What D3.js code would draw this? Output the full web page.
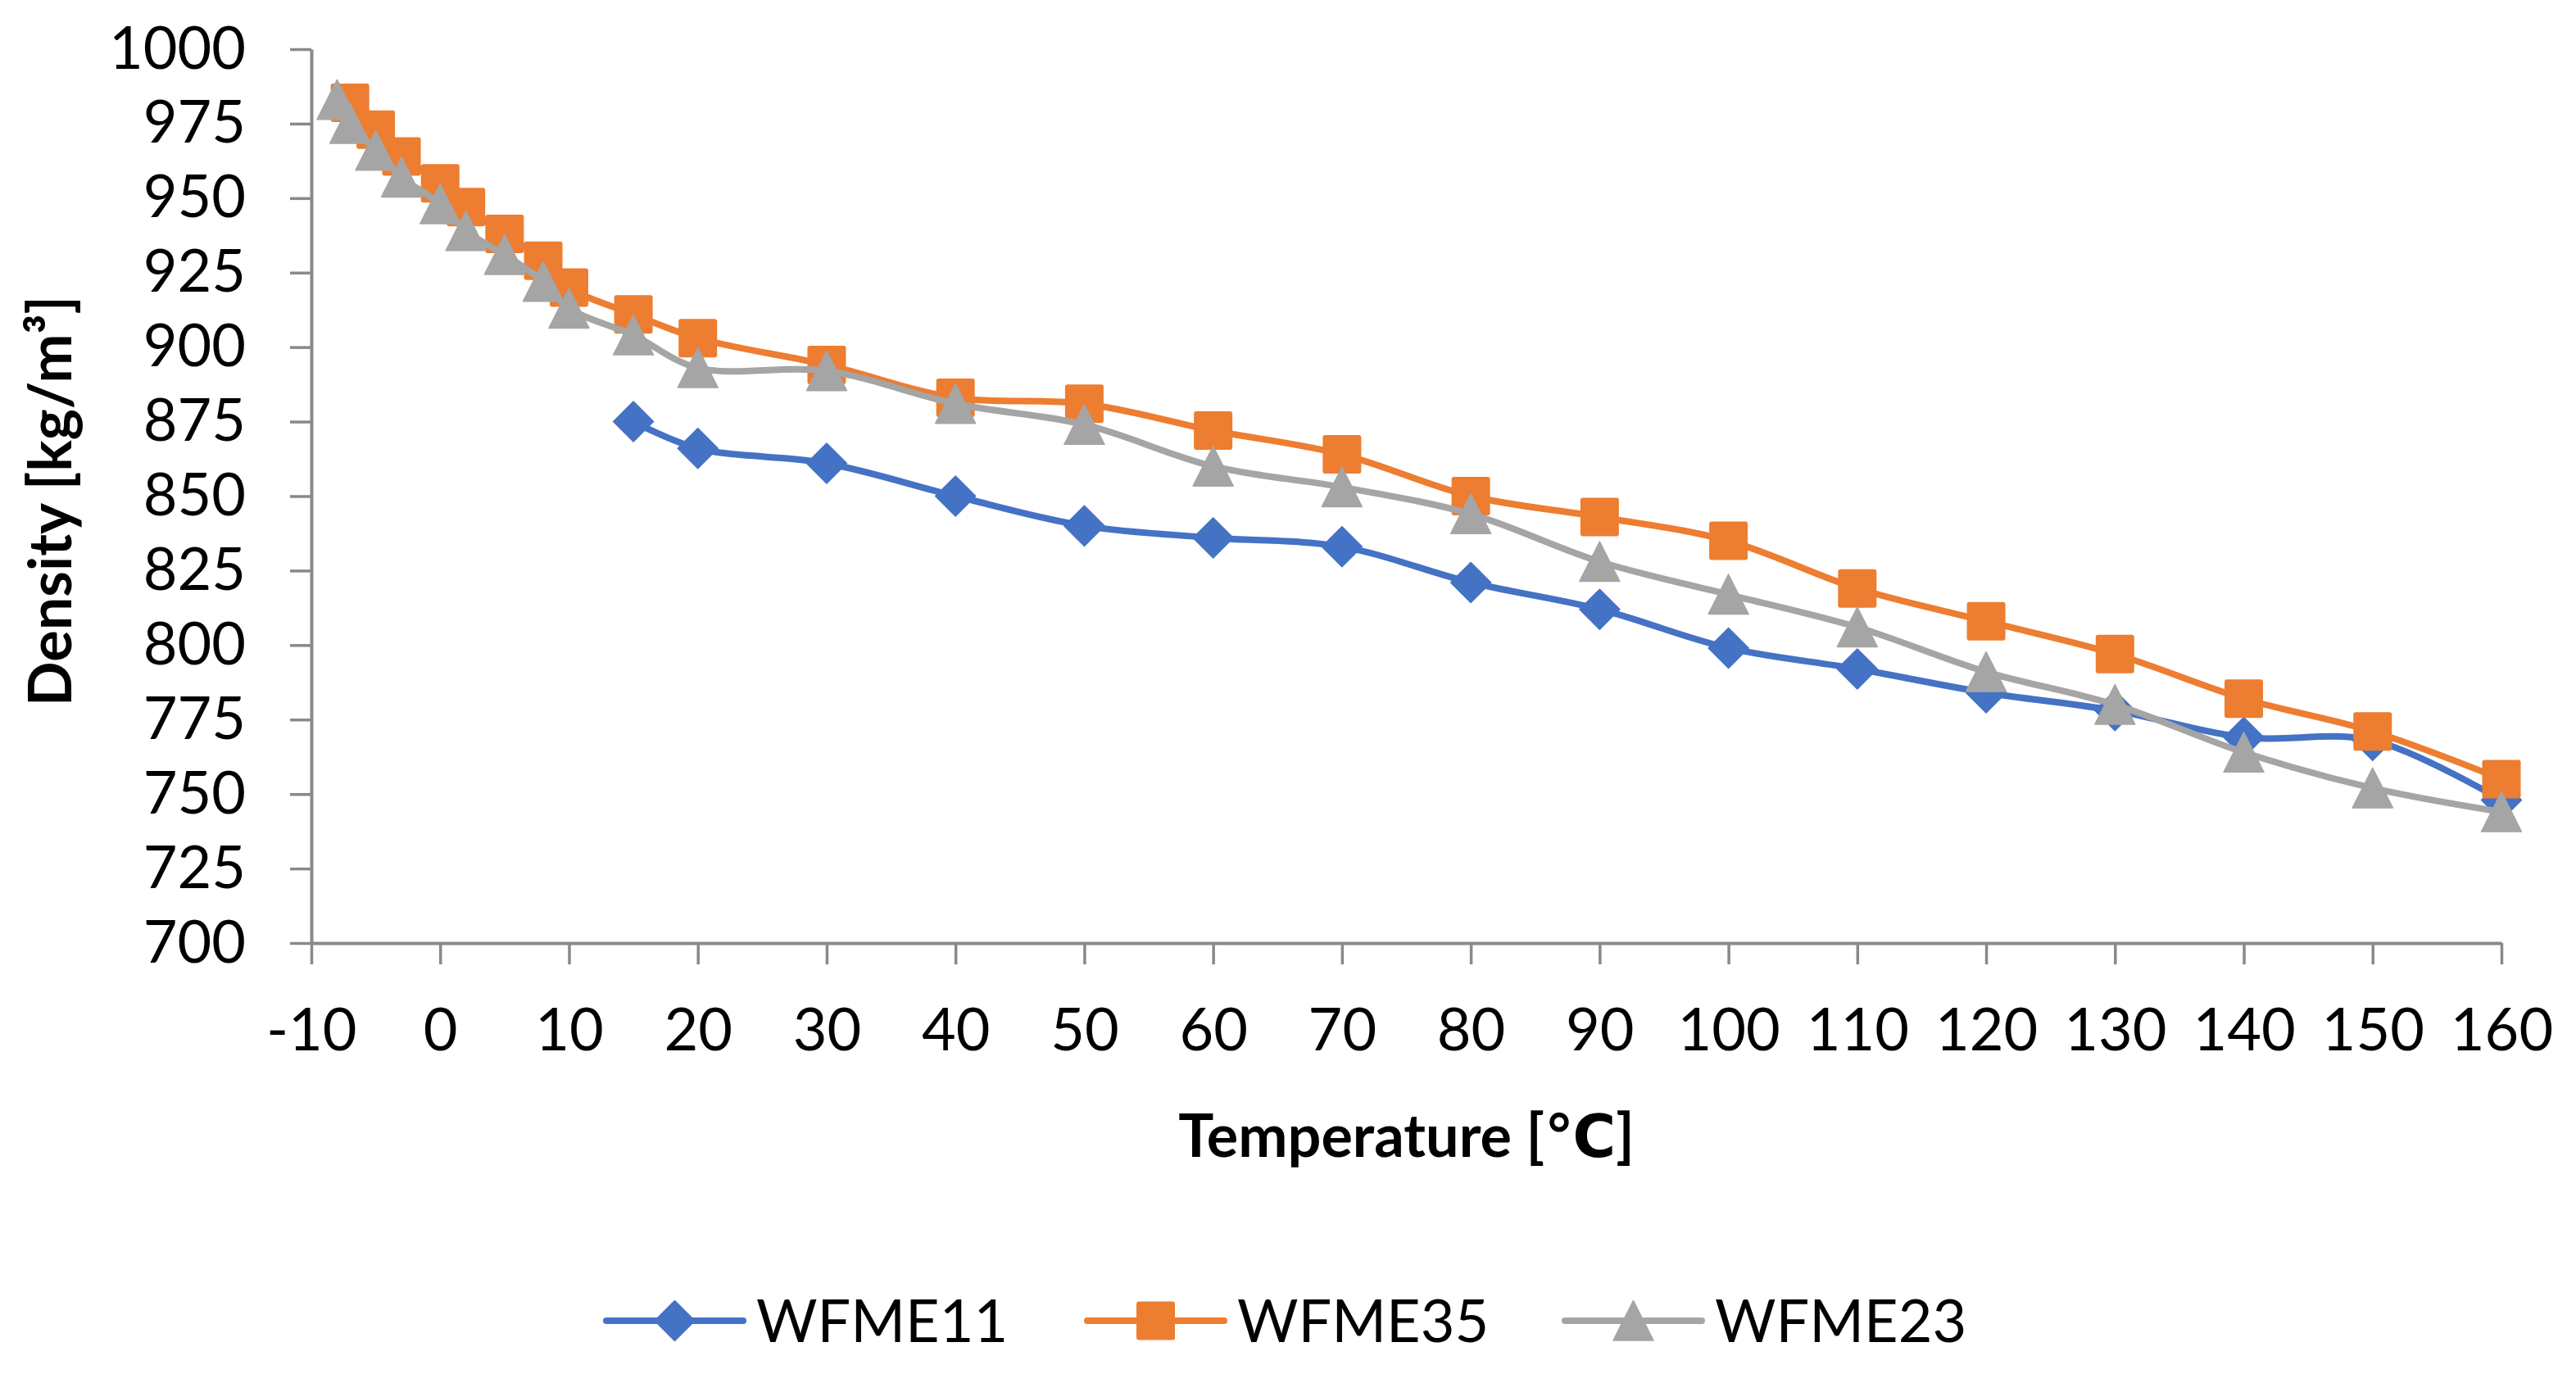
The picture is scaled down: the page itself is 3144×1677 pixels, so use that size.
<!DOCTYPE html>
<html>
<head>
<meta charset="utf-8">
<script src="https://cdn.jsdelivr.net/npm/d3@7"></script>
<style>
  html, body { margin: 0; padding: 0; background: #ffffff; }
  svg { display: block; }
  text { font-family: Lato, "Open Sans", "DejaVu Sans", sans-serif; fill: #000; }
</style>
</head>
<body>
<svg id="chart" width="3144" height="1677"></svg>
<script>
// ---- data ----
const seriesNames = ["WFME11", "WFME35", "WFME23"];

const tempWFME11 = [15, 20, 30, 40, 50, 60, 70, 80, 90, 100, 110, 120, 130, 140, 150, 160];
const densWFME11 = [875, 866, 861, 850, 840, 836, 833, 821, 812, 799, 792, 784, 778, 769, 768, 748];

const tempWFME35 = [-7, -5, -3, 0, 2, 5, 8, 10, 15, 20, 30, 40, 50, 60, 70, 80, 90, 100, 110, 120, 130, 140, 150, 160];
const densWFME35 = [982, 973, 964, 955, 947, 938, 929, 920, 911, 903, 894, 883, 881, 872, 864, 850, 843, 835, 819, 808, 797, 782, 771, 755];

const tempWFME23 = [-8, -7, -5, -3, 0, 2, 5, 8, 10, 15, 20, 30, 40, 50, 60, 70, 80, 90, 100, 110, 120, 130, 140, 150, 160];
const densWFME23 = [983, 975, 966, 957, 948, 939, 931, 922, 913, 904, 893, 892, 881, 874, 860, 853, 844, 828, 817, 806, 791, 780, 764, 752, 744];

const xTicks = [-10, 0, 10, 20, 30, 40, 50, 60, 70, 80, 90, 100, 110, 120, 130, 140, 150, 160];
const yTicks = [700, 725, 750, 775, 800, 825, 850, 875, 900, 925, 950, 975, 1000];

const xTitle = "Temperature [\u2103]";
const yTitle = "Density [kg/m\u00B3]";

// ---- styles ----
const colors = ["#4472C4", "#ED7D31", "#A5A5A5"];
const shapes = ["diamond", "square", "triangle"];
const axisColor = "#898989";
const fontSize = 72;

const temps = [tempWFME11, tempWFME35, tempWFME23];
const dens = [densWFME11, densWFME35, densWFME23];
const series = seriesNames.map((name, i) => ({
  name,
  color: colors[i],
  shape: shapes[i],
  points: temps[i].map((t, j) => ({ x: t, y: dens[i][j] }))
}));

const svg = d3.select("#chart");

const x = d3.scaleLinear().domain([-10, 160]).range([380, 3053]);
const y = d3.scaleLinear().domain([700, 1000]).range([1151, 60]);

// ---- axes ----
const fmt = d => String(d);
const xAxis = svg.append("g")
  .attr("transform", `translate(0,${y(700)})`)
  .call(d3.axisBottom(x).tickValues(xTicks).tickSize(26).tickSizeOuter(0).tickPadding(54).tickFormat(fmt));
const yAxis = svg.append("g")
  .attr("transform", `translate(${x(-10)},0)`)
  .call(d3.axisLeft(y).tickValues(yTicks).tickSize(26).tickSizeOuter(0).tickPadding(54).tickFormat(fmt));

[xAxis, yAxis].forEach(g => {
  g.select(".domain").attr("stroke", axisColor).attr("stroke-width", 4);
  g.selectAll(".tick line").attr("stroke", axisColor).attr("stroke-width", 3.5);
  g.selectAll(".tick text")
    .style("font-family", "Lato, 'Open Sans', sans-serif")
    .style("font-size", fontSize + "px")
    .attr("fill", "#000");
});

// ---- axis titles ----
svg.append("text")
  .attr("x", (x(-10) + x(160)) / 2)
  .attr("y", 1412)
  .attr("text-anchor", "middle")
  .style("font-size", fontSize + "px")
  .style("font-weight", "bold")
  .text(xTitle);

svg.append("text")
  .attr("transform", `translate(87,${(y(700) + y(1000)) / 2 + 6}) rotate(-90)`)
  .attr("text-anchor", "middle")
  .style("font-size", fontSize + "px")
  .style("font-weight", "bold")
  .text(yTitle);

// ---- markers ----
function markerPath(shape) {
  if (shape === "diamond") return "M0,-24.5L24.5,0L0,24.5L-24.5,0Z";
  if (shape === "triangle") return "M0,-24.5L24.5,24L-24.5,24Z";
  return null;
}
function drawMarker(g, shape, color) {
  if (shape === "square") {
    g.append("rect").attr("x", -23.5).attr("y", -23.5).attr("width", 47).attr("height", 47)
      .attr("rx", 3).attr("fill", color);
  } else {
    g.append("path").attr("d", markerPath(shape)).attr("fill", color)
      .attr("stroke", color).attr("stroke-width", 1.5).attr("stroke-linejoin", "round");
  }
}

const line = d3.line().x(d => x(d.x)).y(d => y(d.y)).curve(d3.curveCatmullRom.alpha(0.5));

series.forEach(s => {
  const g = svg.append("g");
  g.append("path").datum(s.points)
    .attr("d", line)
    .attr("fill", "none")
    .attr("stroke", s.color)
    .attr("stroke-width", 8)
    .attr("stroke-linejoin", "round")
    .attr("stroke-linecap", "round");
  g.selectAll("g.pt").data(s.points).enter().append("g")
    .attr("class", "pt")
    .attr("transform", d => `translate(${x(d.x)},${y(d.y)})`)
    .each(function () { drawMarker(d3.select(this), s.shape, s.color); });
});

// ---- legend ----
const legendY = 1612;
const legendStarts = [740, 1327, 1910];
series.forEach((s, i) => {
  const g = svg.append("g").attr("transform", `translate(${legendStarts[i]},${legendY})`);
  g.append("line").attr("x1", 0).attr("x2", 167).attr("y1", 0).attr("y2", 0)
    .attr("stroke", s.color).attr("stroke-width", 8).attr("stroke-linecap", "round");
  const m = g.append("g").attr("transform", "translate(83.5,0)");
  drawMarker(m, s.shape, s.color);
  g.append("text").attr("x", 183).attr("y", 0).attr("dy", "0.36em")
    .style("font-size", fontSize + "px")
    .text(s.name);
});
</script>
</body>
</html>
